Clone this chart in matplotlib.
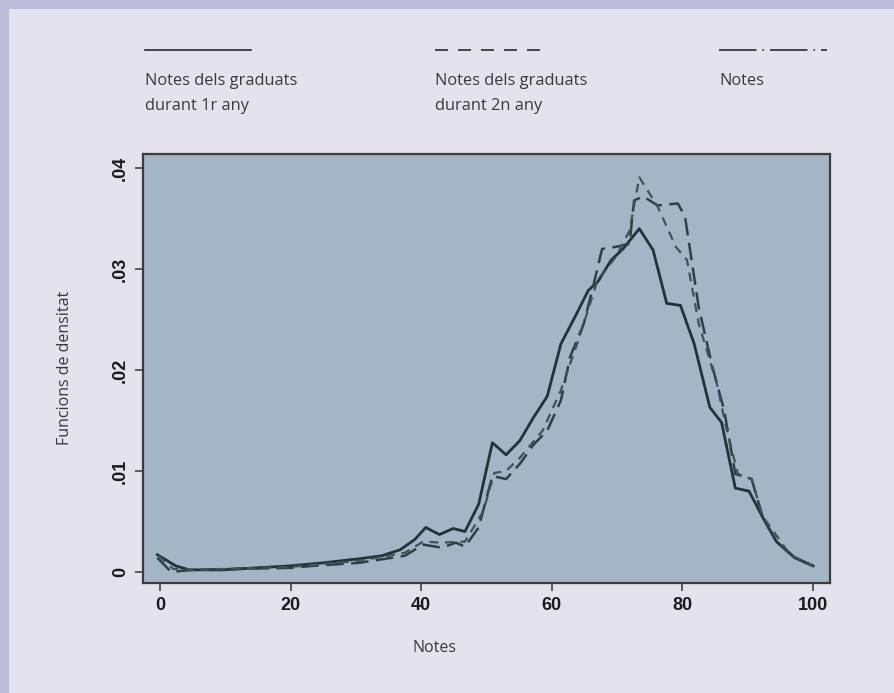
import numpy as np
import matplotlib
matplotlib.use('Agg')
import matplotlib.pyplot as plt
from matplotlib.lines import Line2D
from matplotlib.patches import Rectangle

# density curves
x_1r = [-0.4, 2.4, 4.5, 9.5, 20, 25, 30.5, 34, 36.8, 39, 40.7, 42.8, 44.9, 46.7, 48.8,
        50.9, 53, 55.1, 57.2, 59.3, 61.4, 63.5, 65.6, 67, 69.1, 70.9, 73.4, 75.5, 77.6,
        79.7, 81.8, 84.2, 86, 88.1, 90.2, 92.3, 94.4, 97.2, 100]
y_1r = [0.0017, 0.0006, 0.0002, 0.0002, 0.0006, 0.0009, 0.0013, 0.0016, 0.0022, 0.0032,
        0.0044, 0.0037, 0.0043, 0.0040, 0.0067, 0.0128, 0.0116, 0.0130, 0.0153, 0.0174,
        0.0226, 0.0252, 0.0279, 0.0287, 0.0309, 0.0320, 0.0340, 0.0319, 0.0266, 0.0264,
        0.0226, 0.0163, 0.0148, 0.0083, 0.0080, 0.0054, 0.0030, 0.0014, 0.0006]

x_2n = [-0.4, 1.7, 5, 20, 23.5, 30.5, 37.5, 40.3, 43.2, 45.3, 46.7, 48.8, 50.9, 53, 55.1,
        57.2, 59.3, 61.4, 62.8, 64.9, 66.3, 67.7, 69.8, 71.9, 72.6, 74, 76.2, 79.3, 80.4,
        82.5, 84.6, 86.4, 88.1, 90.6, 92.3, 94.4, 97.2, 100]
y_2n = [0.0014, 0.0000, 0.0002, 0.0004, 0.0006, 0.0009, 0.0016, 0.0027, 0.0024, 0.0029,
        0.0025, 0.0044, 0.0095, 0.0092, 0.0107, 0.0126, 0.0140, 0.0170, 0.0213, 0.0246,
        0.0282, 0.0320, 0.0322, 0.0325, 0.0368, 0.0372, 0.0363, 0.0365, 0.0352, 0.0262,
        0.0203, 0.0160, 0.0097, 0.0092, 0.0054, 0.0030, 0.0014, 0.0006]

x_all = [-0.2, 2, 5, 20, 30.5, 37.5, 40.3, 43, 46.7, 49.5, 51.2, 53, 55.1, 58.6, 61.4,
         64.2, 67, 69.8, 71.9, 73.4, 76.2, 79, 80.7, 82.5, 85.3, 86.7, 88.5, 90.6, 92.3,
         96.5, 100]
y_all = [0.0016, 0.0003, 0.0002, 0.0005, 0.0011, 0.0019, 0.0030, 0.0029, 0.0030, 0.0060,
         0.0098, 0.0100, 0.0113, 0.0140, 0.0180, 0.0232, 0.0289, 0.0312, 0.0338, 0.0391,
         0.0362, 0.0322, 0.0309, 0.0246, 0.0186, 0.0143, 0.0097, 0.0092, 0.0055, 0.0017,
         0.0006]

legend_labels = ['Notes dels graduats\ndurant 1r any', 'Notes dels graduats\ndurant 2n any', 'Notes']
xticks = [0, 20, 40, 60, 80, 100]
yticks = [0, 0.01, 0.02, 0.03, 0.04]
ytick_labels = ['0', '.01', '.02', '.03', '.04']

W, H = 894, 693
fig = plt.figure(figsize=(W / 100, H / 100), dpi=100, facecolor='#bfbcd9')
fig.patches.append(Rectangle((9 / W, 0), 1 - 9 / W, 1 - 9 / H, transform=fig.transFigure,
                             facecolor='#e4e2ed', edgecolor='none', zorder=-10))

ax = fig.add_axes([143 / W, (H - 583) / H, (830 - 143) / W, (583 - 154) / H])
ax.set_facecolor('#a4b5c5')
line_c = '#1e3437'
ax.plot(x_1r, y_1r, color=line_c, lw=2.0, solid_joinstyle='round')
ax.plot(x_2n, y_2n, color='#2c4145', lw=1.8, ls=(0, (7, 3)))
ax.plot(x_all, y_all, color='#3d5358', lw=1.6, ls=(0, (4, 3)))

ax.set_xlim(-2.6, 102.6)
ax.set_ylim(-0.0011, 0.0414)
ax.set_xticks(xticks)
ax.set_yticks(yticks)
ax.set_yticklabels(ytick_labels, rotation=90, va='center')
ax.tick_params(direction='out', length=6, width=1.2, color='#444444', labelsize=13,
               labelcolor='#1a1a1a', pad=4)
for lab in ax.get_xticklabels() + ax.get_yticklabels():
    lab.set_fontfamily('Liberation Sans')
    lab.set_fontweight('bold')
for s in ax.spines.values():
    s.set_color('#3c3c3c')
    s.set_linewidth(1.6)

txt_c = '#3a3a3a'
fnt = 'Open Sans'
fig.text(65 / W, 1 - 368 / H, 'Funcions de densitat', rotation=90, ha='center', va='center',
         fontsize=11.5, color=txt_c, family=fnt)
fig.text(435 / W, 1 - 648 / H, 'Notes', ha='center', va='center', fontsize=11.5,
         color=txt_c, family=fnt)

# legend across the top
samples = [(145, 251, '-'), (435, 540, (0, (7.8, 6.0))), (719, 827, (0, (22.5, 3.6, 0.9, 3.6)))]
for (x0, x1, ls), lab in zip(samples, legend_labels):
    fig.lines.append(Line2D([x0 / W, x1 / W], [1 - 50 / H] * 2, transform=fig.transFigure,
                            color='#2a2a2a', lw=1.2, ls=ls))
    fig.text(x0 / W, 1 - 73 / H, lab, ha='left', va='top', fontsize=11.8, color=txt_c,
             family=fnt, linespacing=1.75)

fig.savefig('out.png', dpi=100, facecolor=fig.get_facecolor())
